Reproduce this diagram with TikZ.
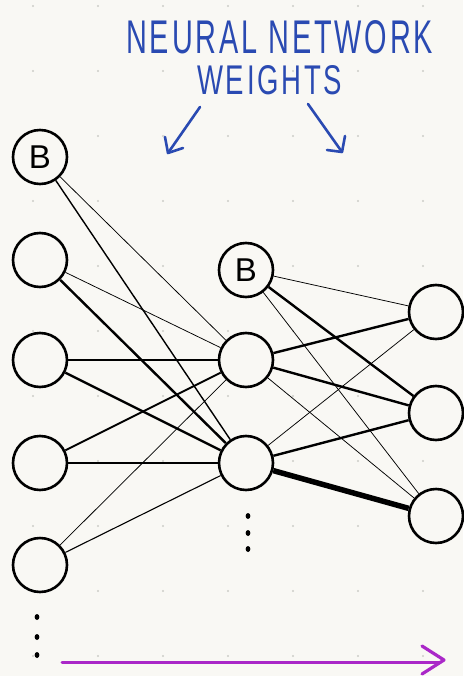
\documentclass[tikz,border=0pt]{standalone}
\usepackage{fontspec}
\setmainfont{Liberation Sans}
\newfontfamily\titlefont[LetterSpace=10]{Liberation Sans}
\usetikzlibrary{arrows.meta}
\definecolor{bg}{RGB}{249,248,244}
\definecolor{gridgray}{RGB}{205,205,200}
\definecolor{inkblue}{RGB}{42,74,178}
\definecolor{arrowpurple}{RGB}{170,40,200}
\begin{document}
\begin{tikzpicture}[x=1pt,y=-1pt,
  neuron/.style={circle, draw, line width=2.6pt, fill=bg, minimum size=54pt, inner sep=0pt, font=\fontsize{33}{33}\selectfont},
  wthin/.style={line width=0.75pt},
  wmid/.style={line width=1.4pt},
  wbold/.style={line width=2.4pt},
  wheavy/.style={line width=5.5pt},
  ink/.style={inkblue, line width=2.6pt, line cap=round, line join=round},
  ellipsisdot/.style={fill=black}]
\fill[bg] (0,0) rectangle (463,676);
\useasboundingbox (0,0) rectangle (463,676);
\foreach \x in {33,98,...,423}
  \foreach \y in {6,71,...,656}
    \fill[gridgray] (\x,\y) circle (1.1pt);
% title
\node[text=inkblue, anchor=south west, inner sep=0pt] (t1) at (126,54) {\resizebox{307pt}{33pt}{\titlefont NEURAL NETWORK}};
\node[text=inkblue, anchor=south west, inner sep=0pt] (t2) at (197,95) {\resizebox{145pt}{29pt}{\titlefont WEIGHTS}};
\coordinate (la0) at (200,107); \coordinate (la1) at (168,153);
\draw[ink] (la0) -- (la1);
\draw[ink] (165,137) -- (la1) -- (183,148);
\coordinate (ra0) at (308,104); \coordinate (ra1) at (342,152);
\draw[ink] (ra0) -- (ra1);
\draw[ink] (327,150) -- (ra1) -- (345,136);
% neurons
\node[neuron] (b1) at (40,157) {B};
\node[neuron] (a1) at (40,260) {};
\node[neuron] (a2) at (40,360) {};
\node[neuron] (a3) at (40,463) {};
\node[neuron] (a4) at (40,565) {};
\node[neuron] (b2) at (246,270) {B};
\node[neuron] (h1) at (246,360) {};
\node[neuron] (h2) at (246,463) {};
\node[neuron] (o1) at (436,312) {};
\node[neuron] (o2) at (436,413) {};
\node[neuron] (o3) at (436,516) {};
% weights layer 1 -> 2
\draw[wthin] (b1) -- (h1);
\draw[wmid] (b1) -- (h2);
\draw[wthin] (a1) -- (h1);
\draw[wbold] (a1) -- (h2);
\draw[wbold] (a2) -- (h1);
\draw[wbold] (a2) -- (h2);
\draw[line width=2pt] (a3) -- (h1);
\draw[wmid] (a3) -- (h2);
\draw[wthin] (a4) -- (h1);
\draw[line width=1.1pt] (a4) -- (h2);
% weights layer 2 -> 3
\draw[wthin] (b2) -- (o1);
\draw[wbold] (b2) -- (o2);
\draw[wthin] (b2) -- (o3);
\draw[wbold] (h1) -- (o1);
\draw[wbold] (h1) -- (o2);
\draw[wthin] (h1) -- (o3);
\draw[wthin] (h2) -- (o1);
\draw[wbold] (h2) -- (o2);
\draw[wheavy] (h2) -- (o3);
% ellipses
\foreach \y in {617,637,655} \fill[ellipsisdot] (37,\y) ellipse (2.4pt and 3pt);
\foreach \y in {516,533,549} \fill[ellipsisdot] (248,\y) ellipse (2.4pt and 3pt);
% direction arrow
\coordinate (pa0) at (62,662); \coordinate (pa1) at (444,660);
\draw[arrowpurple, line width=3pt, line cap=round] (pa0) -- (440,662);
\draw[arrowpurple, line width=3.2pt, line cap=round, line join=round] (422,646) -- (pa1) -- (422,674);
\end{tikzpicture}
\end{document}
